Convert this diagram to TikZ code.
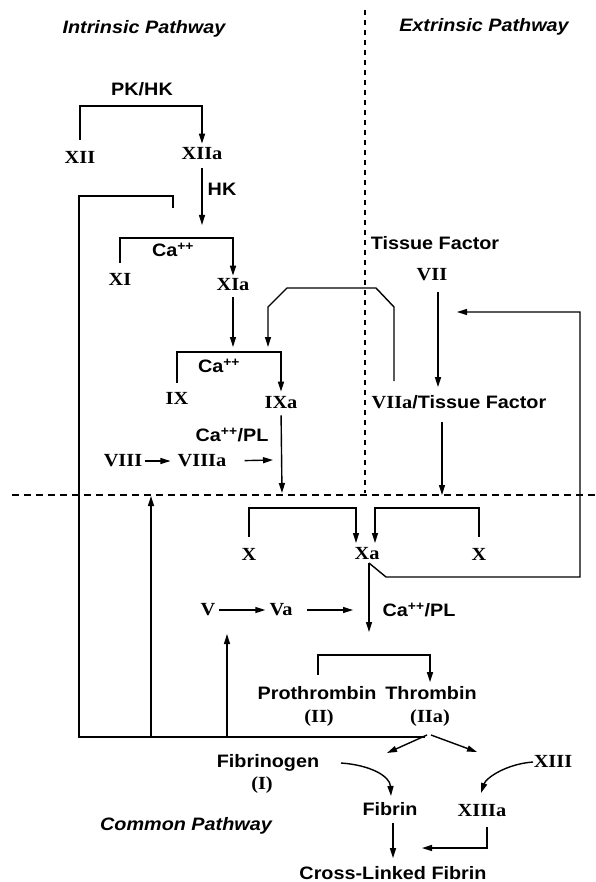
\documentclass[tikz,border=0pt]{standalone}
\usepackage{fontspec}
\setmainfont{Liberation Serif}[FakeStretch=1.1]
\setsansfont{Liberation Sans}[FakeStretch=1.1]
\usetikzlibrary{arrows.meta}
\begin{document}
\begin{tikzpicture}[x=1pt,y=-1pt,
  every node/.style={inner sep=0pt},
  rn/.style={font=\rmfamily\bfseries\fontsize{18.5}{20}\selectfont},
  lb/.style={font=\sffamily\bfseries\fontsize{18}{20}\selectfont},
  ttl/.style={font=\sffamily\bfseries\itshape\fontsize{18}{20}\selectfont},
  conn/.style={line width=1.4pt},
  arr/.style={conn,-{Triangle[length=10pt,width=6pt]}},
  dsh/.style={line width=1.2pt,dash pattern=on 7pt off 5pt}]
\path[use as bounding box,fill=white] (0,0) rectangle (595,882);

% titles
\node[ttl] (intr) at (144,29) {Intrinsic Pathway};
\node[ttl] (extr) at (484,27) {Extrinsic Pathway};
\node[ttl] (comm) at (186,826) {Common Pathway};

% dashed separators
\coordinate (vtop) at (365,10);
\coordinate (vbot) at (365,493);
\coordinate (hl) at (12,495);
\coordinate (hr) at (595,495);
\draw[dsh,dash pattern=on 5pt off 5pt] (vtop) -- (vbot);
\draw[dsh] (hl) -- (hr);

% intrinsic labels
\node[lb] (pkhk) at (142,89) {PK/HK};
\node[rn] (xii) at (80,157) {XII};
\node[rn] (xiia) at (202,154) {XIIa};
\node[lb] (hk) at (222,189) {HK};
\node[lb] (ca1) at (173,250) {Ca\textsuperscript{++}};
\node[rn] (xi) at (120,279) {XI};
\node[rn] (xia) at (233,285) {XIa};
\node[lb] (ca2) at (219,366) {Ca\textsuperscript{++}};
\node[rn] (ix) at (177,398) {IX};
\node[rn] (ixa) at (281,403) {IXa};
\node[lb] (capl1) at (232,435) {Ca\textsuperscript{++}/PL};
\node[rn] (viii) at (123,461) {VIII};
\node[rn] (viiia) at (202,461) {VIIIa};

% extrinsic labels
\node[lb] (tf) at (435,243) {Tissue Factor};
\node[rn] (vii) at (432,275) {VII};
\node[lb] (viiatf) at (459,402) {\rmfamily\fontsize{18.5}{20}\selectfont VIIa\sffamily\fontsize{18}{20}\selectfont/Tissue Factor};

% common labels
\node[rn] (xl) at (249,554) {X};
\node[rn] (xa) at (367,554) {Xa};
\node[rn] (xr) at (479,554) {X};
\node[rn] (v) at (208,610) {V};
\node[rn] (va) at (281,610) {Va};
\node[lb] (capl2) at (419,610) {Ca\textsuperscript{++}/PL};
\node[lb] (proth) at (317,693) {Prothrombin};
\node[lb] (thromb) at (431,693) {Thrombin};
\node[rn] (ii) at (319,718) {(II)};
\node[rn] (iia) at (430,718) {(IIa)};
\node[lb] (fgen) at (268,763) {Fibrinogen};
\node[rn] (i) at (262,785) {(I)};
\node[lb] (fibrin) at (390,809) {Fibrin};
\node[rn] (xiii) at (553,761) {XIII};
\node[rn] (xiiia) at (482,811) {XIIIa};
\node[lb] (clf) at (393,873) {Cross-Linked Fibrin};

% ---- intrinsic connectors
\draw[arr,shorten <=11pt,shorten >=4pt] (xii.north) |- (202,106) -- (xiia.north);
\coordinate (hkend) at (202,225);
\draw[arr,shorten <=8pt] (xiia.south) -- (hkend);
\draw[arr,shorten <=10pt,shorten >=3pt] (xi.north) |- (233,238) -- (xia.north);
\coordinate (xiaend) at (233,347);
\draw[arr,shorten <=6pt] (xia.south) -- (xiaend);
\draw[arr,shorten <=9pt,shorten >=5pt] (ix.north) |- (281,352) -- (ixa.north);
\coordinate (ixaend) at (282,493);
\draw[arr,shorten <=6pt] (ixa.south) -- (ixaend);
\draw[arr,shorten <=3pt,shorten >=7pt] (viii.east) -- (viiia.west);
\coordinate (viiiaend) at (273,460);
\draw[arr,shorten <=18pt] (viiia.east) -- (viiiaend);

% feedback from thrombin
\coordinate (fbstart) at (173,208);
\coordinate (fork) at (425,737);
\draw[conn] (fbstart) |- (79,196) |- (fork);
\coordinate (up1) at (151,737);
\coordinate (up1e) at (151,496);
\draw[arr] (up1) -- (up1e);
\coordinate (up2) at (227,737);
\coordinate (up2e) at (227,634);
\draw[arr] (up2) -- (up2e);

% ---- extrinsic connectors
\coordinate (viist) at (438,292);
\draw[arr,shorten >=8pt] (viist) -- (viist |- viiatf.north);
\coordinate (vbst) at (394,381);
\draw[arr] (vbst) -- (394,307) -- (376,288) -- (287,288) -- (268,307) -- (268,347);
\coordinate (tfst) at (442,422);
\coordinate (tfend) at (442,495);
\draw[arr] (tfst) -- (tfend);

% ---- common connectors
\draw[arr,shorten <=11pt] (xl.north) |- (356,508) -- (356,543);
\draw[arr,shorten <=11pt] (xr.north) |- (375,508) -- (375,543);
\coordinate (xast) at (369,563);
\coordinate (xaend) at (369,632);
\draw[arr] (xast) -- (xaend);
\coordinate (fb7) at (457,312);
\draw[arr] (xast) -- (386,577) -- (580,577) |- (fb7);
\draw[arr,shorten <=3pt,shorten >=4pt] (v.east) -- (va.west);
\coordinate (vaend) at (353,610);
\draw[arr,shorten <=14pt] (va.east) -- (vaend);
\coordinate (pst) at (318,675);
\draw[arr,shorten >=4pt] (pst) |- (430,655) -- (thromb.north -| 430,0);
\coordinate (fk1) at (427,735);
\coordinate (fk2) at (431,735);
\draw[arr] (fk1) -- (387,753);
\draw[arr] (fk2) -- (477,752);
\coordinate (fgst) at (341,763);
\draw[arr] (fgst) .. controls (370,765) and (390,776) .. (391,796);
\coordinate (xiiist) at (533,762);
\draw[arr] (xiiist) .. controls (506,764) and (486,778) .. (481,793);
\coordinate (fbx) at (393,0);
\draw[arr,shorten <=7pt,shorten >=8pt] (fibrin.south -| fbx) -- (clf.north -| fbx);
\coordinate (xiiiast) at (487,827);
\draw[arr] (xiiiast) |- (422,848);
\end{tikzpicture}
\end{document}
